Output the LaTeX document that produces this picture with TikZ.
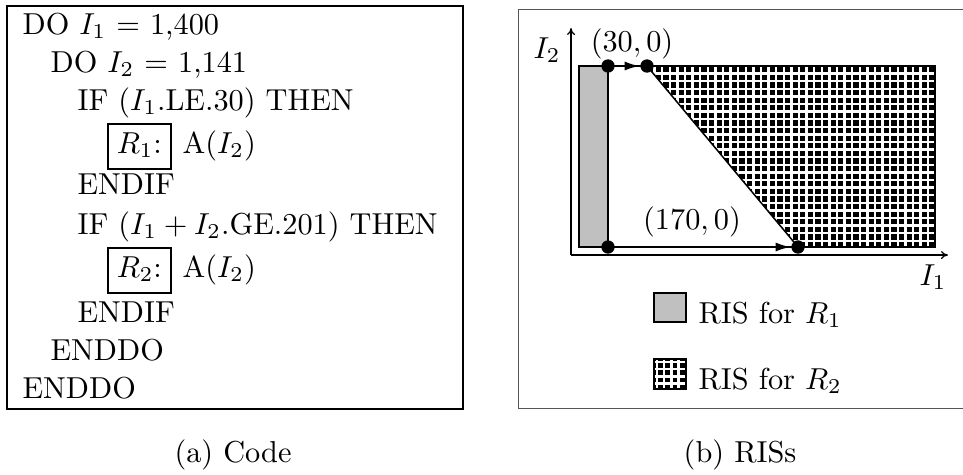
\documentclass[tikz,border=0pt]{standalone}
\usetikzlibrary{arrows.meta}
\definecolor{RISGray}{HTML}{C0C0C0}
\definecolor{FrameGray}{HTML}{555555}
\tikzset{
  dot/.style={circle,fill=black,inner sep=0pt,minimum size=4.4pt},
  flow/.style={line width=.7pt,-{Latex[length=5pt,width=3pt]}},
  axis/.style={line width=.4pt,-{To[length=2.3pt,width=2.6pt]}},
  tag/.style={draw,line width=.5pt,anchor=base west,inner xsep=0pt,inner ysep=1.65pt,
    minimum width=20.8pt,text height=7.9pt,text depth=3.6pt},
  code/.style={anchor=base west,inner sep=0pt},
  lab/.style={inner sep=0pt},
  gridline/.style={white,line width=.8pt},
}
\begin{document}
\begin{tikzpicture}[x=.33pt,y=-.33pt]
\path[use as bounding box] (0,0) rectangle (963,474);
% (a) code
\draw[line width=.66pt] (7,6) rectangle (463,409);
\node[code] (l1) at (22,34) {DO $I_1$ = 1,400};
\node[code] (l2) at (50,72) {DO $I_2$ = 1,141};
\node[code] (l3) at (77,110) {IF ($I_1$.LE.30) THEN};
\node[tag] (r1) at (107,153) {$R_1$:};
\node[code] (a1) at (182,153) {A($I_2$)};
\node[code] (l5) at (77,194) {ENDIF};
\node[code] (l6) at (77,234) {IF ($I_1+I_2$.GE.201) THEN};
\node[tag] (r2) at (107,277) {$R_2$:};
\node[code] (a2) at (182,277) {A($I_2$)};
\node[code] (l8) at (77,322) {ENDIF};
\node[code] (l9) at (50,360) {ENDDO};
\node[code] (l10) at (22,398) {ENDDO};
\node[anchor=base] (capa) at (233,462) {(a) Code};
% (b) RISs
\draw[FrameGray,line width=.33pt] (518,9) rectangle (970,408);
\coordinate (o) at (571,255);
\coordinate (tl) at (579,66);
\coordinate (tr) at (935,66);
\coordinate (br) at (935,247);
\coordinate (bl) at (579,247);
\coordinate (d1) at (647,66);
\coordinate (d2) at (798,247);
\begin{scope}
\clip (d1) -- (tr) -- (br) -- (d2) -- cycle;
\fill[black] (d1) rectangle (br);
\foreach \k in {0,...,38}
  \draw[gridline] (647+7.6*\k,60) -- (647+7.6*\k,250);
\foreach \k in {0,...,24}
  \draw[gridline] (640,66+7.6*\k) -- (940,66+7.6*\k);
\end{scope}
\fill[RISGray] (tl) rectangle (608,247);
\draw[line width=.5pt] (tl) rectangle (br);
\draw[line width=.5pt] (d1) -- (d2);
\draw[line width=.85pt] (608,66) -- (608,247);
\draw[axis] (o) -- (571,28);
\draw[axis] (o) -- (948,255);
\node[dot] (p1) at (608,66) {};
\node[dot] (p2) at (d1) {};
\node[dot] (p3) at (608,247) {};
\node[dot] (p4) at (d2) {};
\draw[flow] (p1) -- (p2);
\draw[flow] (p3) -- (p4);
\node[lab] (t30) at (632,44) {$(30,0)$};
\node[lab] (t170) at (692,222) {$(170,0)$};
\node[lab] (ax2) at (547,50) {$I_2$};
\node[lab] (ax1) at (933,277) {$I_1$};
% legend
\draw[line width=.5pt,fill=RISGray] (654,293) rectangle (686,322);
\node[code] (leg1) at (698,323) {RIS for $R_1$};
\begin{scope}
\clip (654,359) rectangle (686,389);
\fill[black] (654,359) rectangle (686,389);
\foreach \k in {0,...,4}
  \draw[gridline] (657+7.2*\k,355) -- (657+7.2*\k,392);
\foreach \k in {0,...,4}
  \draw[gridline] (650,362+7.2*\k) -- (690,362+7.2*\k);
\end{scope}
\draw[line width=.5pt] (654,359) rectangle (686,389);
\node[code] (leg2) at (698,389) {RIS for $R_2$};
\node[anchor=base] (capb) at (740,462) {(b) RISs};
\end{tikzpicture}
\end{document}
